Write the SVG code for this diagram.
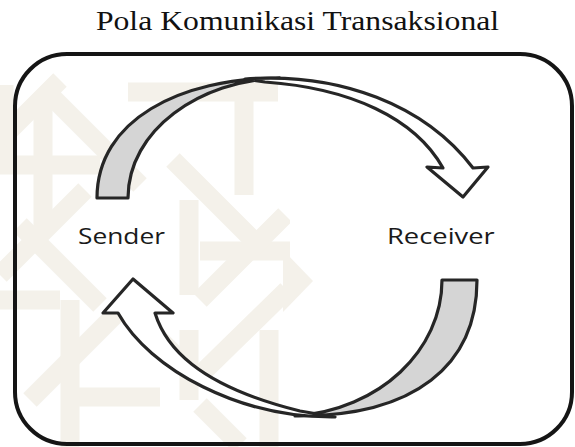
<svg xmlns="http://www.w3.org/2000/svg" width="575" height="447" viewBox="0 0 575 447">
  <style>
    .title { font-family: "Liberation Serif", "Times New Roman", serif; font-size: 27px; fill: #111; }
    .label { font-family: "Open Sans", "Noto Sans", sans-serif; font-size: 22px; fill: #1a1a1a; }
    .frame { fill: none; stroke: #151515; stroke-width: 4; }
    .back { fill: #d5d5d5; stroke: #262626; stroke-width: 3.2; stroke-linejoin: round; }
    .front { fill: #ffffff; stroke: #262626; stroke-width: 3.2; stroke-linejoin: round; }
    .band { stroke: #f4f1ea; stroke-width: 19; stroke-linecap: butt; fill: none; }
  </style>
  <defs>
    <clipPath id="wm-clip">
      <rect x="0" y="50" width="290" height="397"/>
    </clipPath>
  </defs>

  <rect x="0" y="0" width="575" height="447" fill="#ffffff"/>

  <!-- faint interlaced background ornament -->
  <g id="ornament" clip-path="url(#wm-clip)">
    <line class="band" x1="43" y1="105" x2="43" y2="230"/>
    <line class="band" x1="244" y1="83" x2="244" y2="195"/>
    <line class="band" x1="189" y1="200" x2="189" y2="295"/>
    <line class="band" x1="70" y1="300" x2="70" y2="447"/>
    <line class="band" x1="189" y1="330" x2="189" y2="400"/>
    <line class="band" x1="269" y1="330" x2="269" y2="447"/>
    <line class="band" x1="4" y1="85" x2="4" y2="160"/>
    <line class="band" x1="0" y1="165" x2="100" y2="165"/>
    <line class="band" x1="128" y1="92" x2="278" y2="92"/>
    <line class="band" x1="200" y1="251" x2="290" y2="251"/>
    <line class="band" x1="63" y1="397" x2="160" y2="397"/>
    <line class="band" x1="0" y1="300" x2="60" y2="300"/>
    <line class="band" x1="45" y1="90" x2="140" y2="185"/>
    <line class="band" x1="173" y1="160" x2="255" y2="242"/>
    <line class="band" x1="20" y1="225" x2="100" y2="305"/>
    <line class="band" x1="120" y1="300" x2="200" y2="380"/>
    <line class="band" x1="200" y1="405" x2="240" y2="445"/>
    <line class="band" x1="0" y1="275" x2="85" y2="190"/>
    <line class="band" x1="200" y1="300" x2="285" y2="215"/>
    <line class="band" x1="30" y1="400" x2="120" y2="310"/>
    <line class="band" x1="200" y1="375" x2="287" y2="290"/>
    <line class="band" x1="60" y1="80" x2="0" y2="140"/>
  </g>
  <polygon points="283,250 313,281 283,312" fill="#f4f1ea"/>

  <g id="title">
    <text class="title" transform="translate(297.5,30) scale(1.174,1)" x="0" y="0" text-anchor="middle">Pola Komunikasi Transaksional</text>
  </g>

  <g id="frame">
    <rect class="frame" x="15" y="54" width="557" height="390" rx="52" ry="52"/>
  </g>

  <g id="connectors">
    <!-- upper arrow: Sender to Receiver -->
    <path class="back" d="M97,198 C97,120 180,78 280,78 C200,80 128,130 128,198 Z"/>
    <path class="front" d="M245,79 C340,72 425,105 473,168 L488,167 L463,197 L427,167 L443,168 C415,118 350,88 265,82 Z"/>
    <!-- lower arrow: Receiver to Sender -->
    <path class="back" d="M477,280 C477,365 415,417 295,416 C380,410 442,350 442,280 Z"/>
    <path class="front" d="M335,417 C240,418 150,370 118,313 L103,313 L133,279 L173,313 L155,313 C165,345 195,385 300,411 Z"/>
  </g>

  <g id="sender">
    <text class="label" transform="translate(78,244) scale(1.197,1)" x="0" y="0">Sender</text>
  </g>
  <g id="receiver">
    <text class="label" transform="translate(387,244) scale(1.243,1)" x="0" y="0">Receiver</text>
  </g>
</svg>
